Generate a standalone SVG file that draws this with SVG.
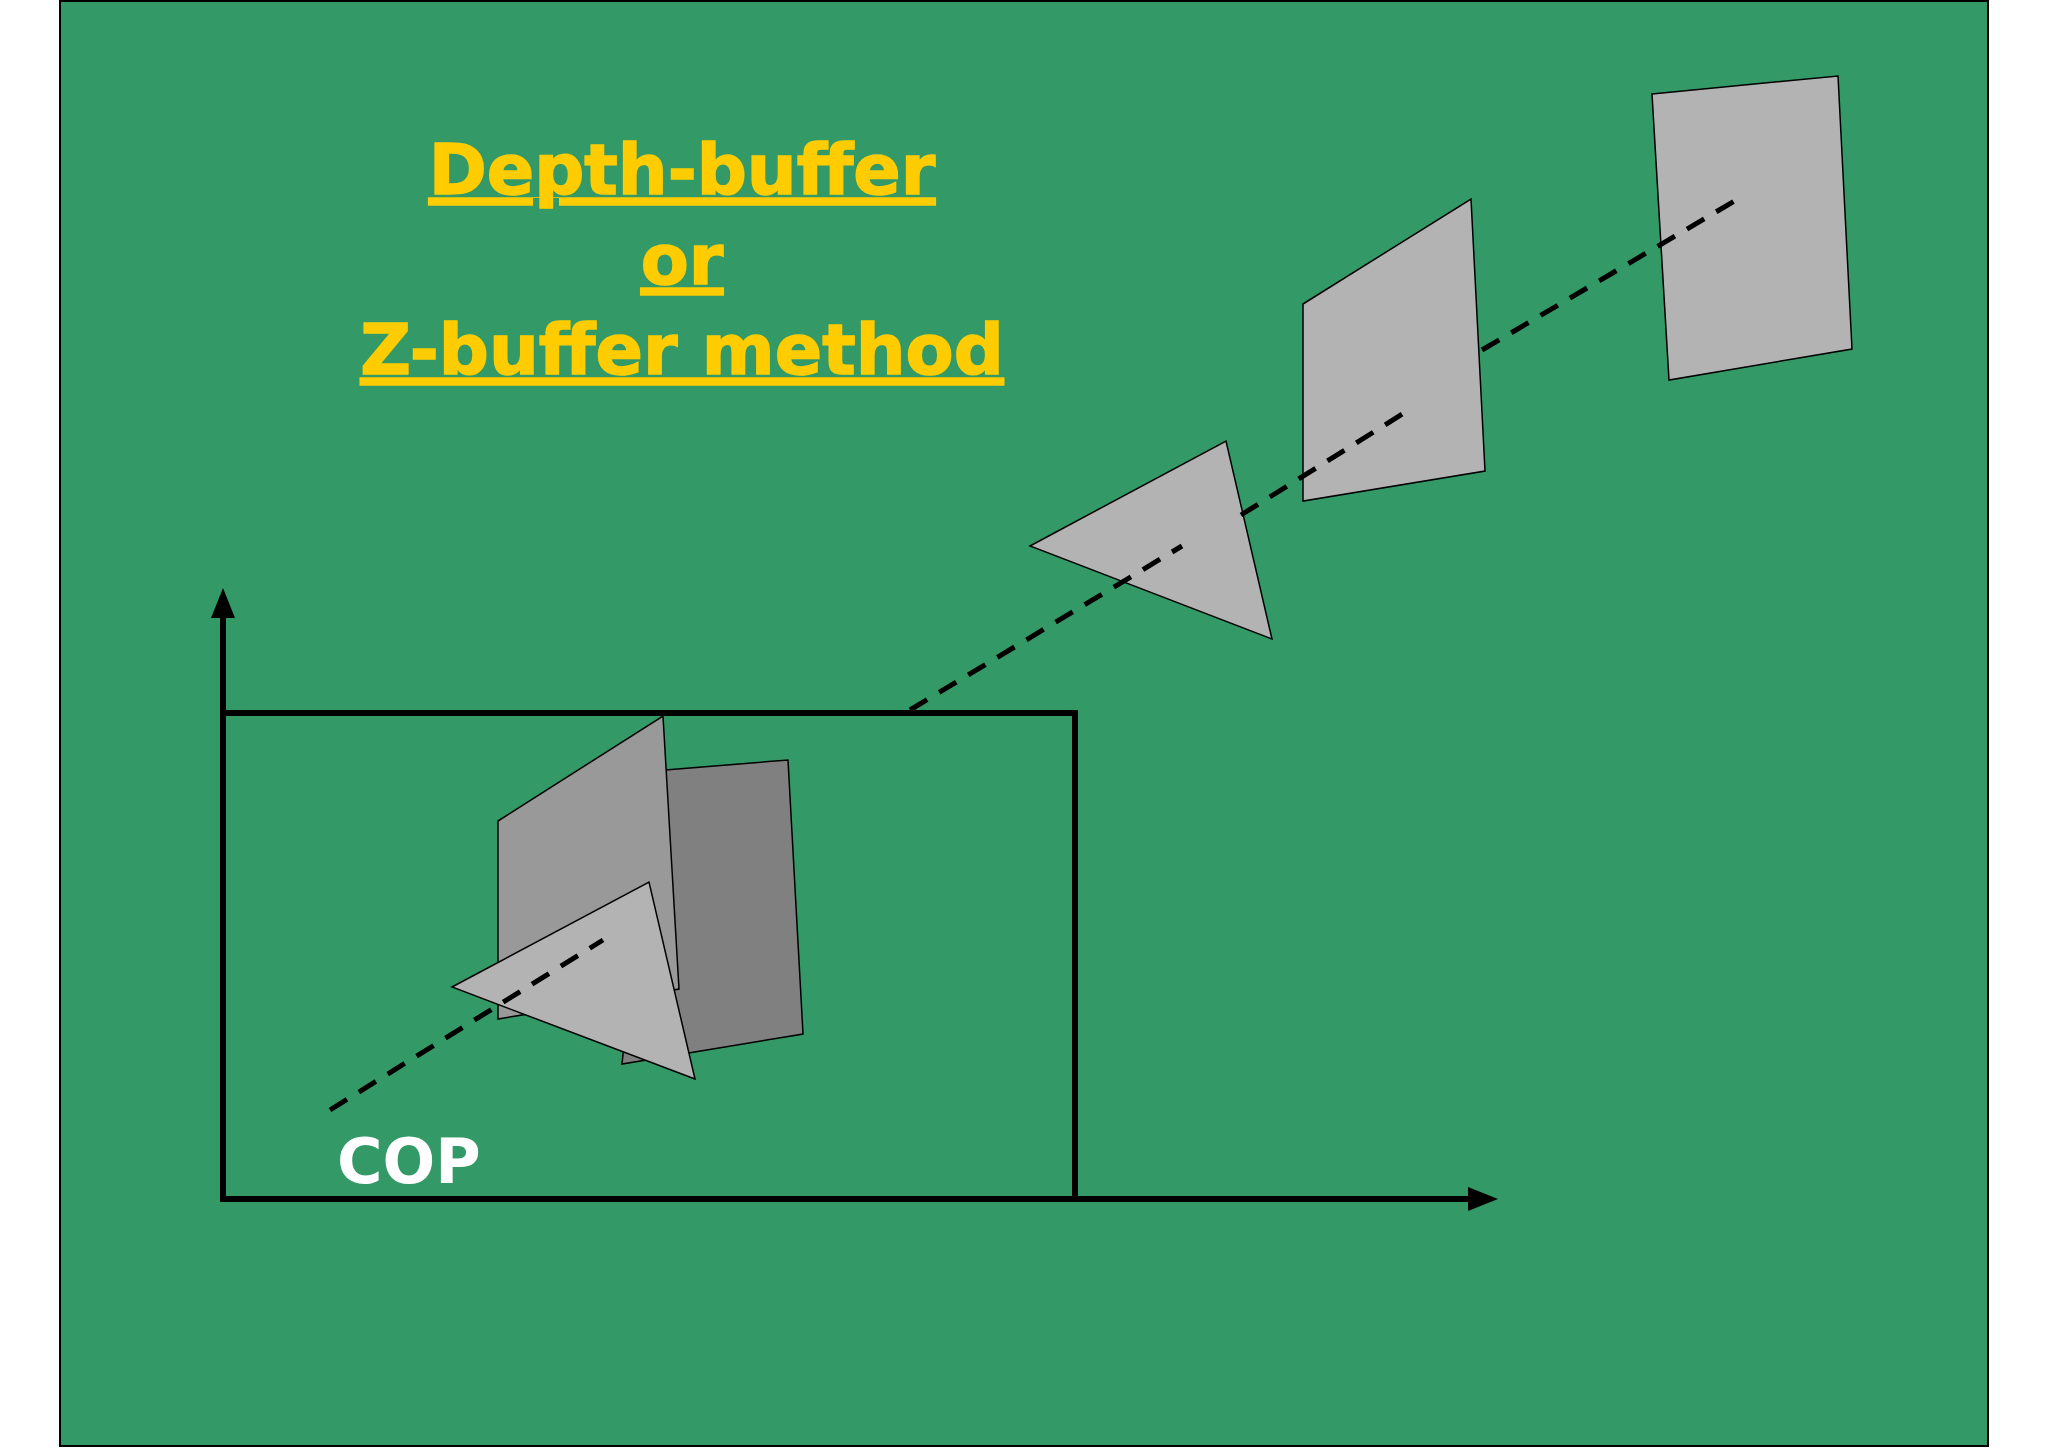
<svg xmlns="http://www.w3.org/2000/svg" width="2048" height="1448" viewBox="0 0 2048 1448">
<defs>
<style>
.t{font-family:"DejaVu Sans",Verdana,sans-serif;font-weight:bold;fill:#FFCC00;font-size:70px;text-decoration:underline;text-anchor:middle;stroke:#FFCC00;stroke-width:1.5}
.sh{stroke:#000;stroke-width:1.5}
.ax{stroke:#000;stroke-width:6;fill:none}
.d{stroke:#000;stroke-width:5;stroke-dasharray:20 14;fill:none}
</style>
<marker id="ah" markerWidth="5" markerHeight="4" refX="1" refY="2" orient="auto" markerUnits="strokeWidth"><path d="M0,0 L5,2 L0,4 z" fill="#000"/></marker>
</defs>
<rect x="0" y="0" width="2048" height="1448" fill="#fff"/>
<rect x="60" y="1" width="1928" height="1445" fill="#339966" stroke="#000" stroke-width="2"/>
<g id="title">
<text class="t" x="682" y="194">Depth-buffer</text>
<text class="t" x="682" y="284">or</text>
<text class="t" x="682" y="374">Z-buffer method</text>
</g>
<g id="axes">
<path class="ax" d="M223,1199 L223,612" marker-end="url(#ah)"/>
<path class="ax" d="M223,1199 L1474,1199" marker-end="url(#ah)"/>
<rect class="ax" x="223" y="713" width="852" height="486"/>
</g>
<g id="far-rect"><polygon class="sh" fill="#b3b3b3" points="1652,94 1838,76 1852,349 1669,380"/></g>
<g id="mid-para"><polygon class="sh" fill="#b3b3b3" points="1303,304 1471,199 1485,471 1303,501"/></g>
<g id="far-tri"><polygon class="sh" fill="#b3b3b3" points="1030,546 1226,441 1272,639"/></g>
<g id="near-rect"><polygon class="sh" fill="#808080" points="653,771 788,760 803,1034 622,1064"/></g>
<g id="near-para"><polygon class="sh" fill="#999999" points="498,821 663,716 679,989 498,1019"/></g>
<g id="near-tri"><polygon class="sh" fill="#b3b3b3" points="452,987 649,882 695,1079"/></g>
<g id="connectors">
<path class="d" d="M330,1110 L603,940"/>
<path class="d" d="M910,710 L1182,546"/>
<path class="d" d="M1241,515 L1404,413"/>
<path class="d" d="M1482,350 L1743,196"/>
</g>
<g id="cop"><text x="337" y="1183" font-family="'DejaVu Sans',Verdana,sans-serif" font-weight="bold" font-size="62" fill="#fff">COP</text></g>
</svg>
